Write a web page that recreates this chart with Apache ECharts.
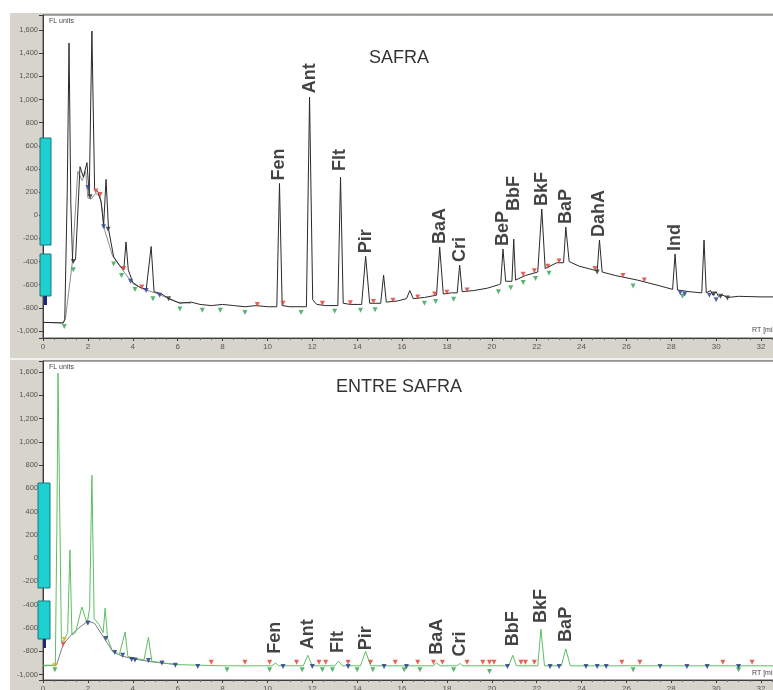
<!DOCTYPE html>
<html>
<head>
<meta charset="utf-8">
<script src="https://cdn.jsdelivr.net/npm/echarts@6/dist/echarts.min.js"></script>
<style>
  html, body { margin: 0; padding: 0; background: #fff; overflow: hidden; }
  #chart { width: 773px; height: 690px; }
</style>
</head>
<body>
<div id="chart"></div>
<script>
// Retention time axis range (min) and fluorescence ranges (FL units)
const rtRange = [0, 32.98];
const flRangeTop = [-1060, 1730];
const flRangeBottom = [-1047, 1694];
const rtTickStep = 2;
const flTickStep = 200;

// SAFRA chromatogram: [RT, FL]
const safraTrace = [
  [0.0,-925],[0.9,-930],[0.97,-900],[1.08,200],[1.16,1487],[1.24,100],[1.32,-400],[1.45,-380],
  [1.65,420],[1.8,330],[1.96,455],[2.06,170],[2.18,1591],[2.3,230],[2.45,200],[2.6,110],
  [2.7,-90],[2.81,310],[2.92,-120],[3.15,-360],[3.4,-430],[3.6,-470],[3.7,-230],[3.8,-470],
  [4.0,-580],[4.3,-620],[4.6,-640],[4.82,-270],[4.95,-660],[5.3,-680],[5.6,-720],[6.1,-760],
  [6.6,-750],[7.0,-770],[7.5,-780],[8.0,-770],[8.5,-780],[9.0,-790],[9.5,-780],[10.0,-790],
  [10.42,-790],[10.54,275],[10.66,-780],[11.0,-790],[11.74,-790],[11.88,1020],[12.02,-730],
  [12.2,-770],[12.6,-780],[13.14,-780],[13.26,330],[13.38,-760],[13.7,-770],[14.2,-770],
  [14.38,-354],[14.56,-760],[15.05,-760],[15.18,-517],[15.3,-750],[15.8,-740],[16.2,-720],
  [16.35,-650],[16.5,-720],[17.0,-710],[17.54,-690],[17.68,-275],[17.84,-680],[18.2,-670],
  [18.46,-670],[18.57,-430],[18.68,-660],[19.2,-650],[19.8,-630],[20.3,-600],[20.4,-590],
  [20.5,-292],[20.62,-570],[20.9,-570],[20.98,-206],[21.06,-560],[21.5,-520],[22.05,-490],
  [22.23,54],[22.38,-460],[22.9,-410],[23.2,-410],[23.3,-102],[23.45,-400],[23.9,-440],
  [24.5,-470],[24.7,-480],[24.8,-214],[24.92,-490],[25.5,-520],[26.5,-560],[27.5,-610],
  [28.06,-640],[28.17,-335],[28.28,-645],[28.8,-660],[29.36,-670],[29.46,-214],[29.56,-670],
  [29.75,-650],[29.85,-690],[30.0,-660],[30.1,-700],[30.3,-690],[30.5,-710],[31.0,-700],
  [32.0,-705],[32.98,-705]
];
// Second SAFRA channel, early part of the run
const safraTraceB = [
  [0.0,-925],[0.9,-930],[1.0,-890],[1.3,-420],[1.55,380],[1.75,300],[1.9,380],[2.0,150],
  [2.15,140],[2.35,190],[2.55,160],[2.75,-130],[3.1,-350],[3.5,-460],[4.0,-590],[4.5,-640],
  [5.0,-670],[5.5,-710],[6.0,-750],[6.6,-760]
];
// Integration marks along the SAFRA run
const safraMarksRed = [
  [2.35,210],[2.55,180],[3.6,-460],[4.4,-620],[9.55,-770],[10.7,-760],[12.45,-760],[13.7,-755],
  [14.73,-745],[15.6,-735],[16.7,-705],[17.45,-680],[18.0,-665],[18.9,-645],[21.4,-510],
  [21.9,-480],[22.5,-440],[23.0,-395],[24.6,-460],[25.85,-520],[26.8,-560]
];
const safraMarksGreen = [
  [0.95,-960],[1.35,-470],[3.15,-420],[3.5,-520],[4.1,-640],[4.9,-720],[6.1,-810],[7.1,-820],
  [7.9,-820],[9.0,-840],[11.5,-840],[13.0,-830],[14.15,-820],[14.8,-815],[17.0,-760],
  [17.5,-745],[18.3,-725],[20.3,-660],[20.85,-625],[21.4,-580],[21.95,-545],[22.55,-500],
  [26.3,-610],[28.5,-700]
];
const safraMarksBlue = [
  [2.0,240],[2.7,-100],[3.9,-570],[4.6,-650],[5.2,-690],[28.4,-670],[28.6,-680],[29.7,-690],
  [30.0,-730]
];
const safraMarksDark = [
  [1.35,-400],[2.1,160],[2.9,-120],[5.6,-720],[24.7,-490],[29.9,-680],[30.2,-700],[30.5,-715]
];
// SAFRA peak names with apex [RT, FL]
const safraPeakNames = ['Fen','Ant','Flt','Pir','BaA','Cri','BeP','BbF','BkF','BaP','DahA','Ind'];
const safraPeakRT = [10.54, 11.88, 13.26, 14.38, 17.68, 18.57, 20.5, 20.98, 22.23, 23.3, 24.8, 28.17];
const safraPeakFL = [275, 1020, 330, -354, -275, -430, -292, -206, 54, -102, -214, -335];

// ENTRE SAFRA chromatogram: [RT, FL]
const entreTrace = [
  [0.0,-920],[0.55,-920],[0.62,300],[0.67,1590],[0.74,500],[0.82,-720],[0.95,-700],[1.1,-640],
  [1.2,70],[1.29,-660],[1.45,-640],[1.73,-420],[1.97,-560],[2.08,-430],[2.18,712],[2.28,-520],
  [2.5,-570],[2.68,-640],[2.77,-430],[2.88,-690],[3.1,-800],[3.4,-830],[3.66,-635],[3.78,-845],
  [4.1,-860],[4.5,-875],[4.7,-680],[4.85,-885],[5.3,-900],[6.0,-915],[7.0,-920],[8.0,-925],
  [9.0,-925],[10.2,-925],[10.36,-900],[10.5,-925],[11.6,-925],[11.8,-835],[12.0,-925],
  [13.0,-925],[13.17,-885],[13.35,-925],[14.15,-925],[14.38,-800],[14.6,-925],[17.4,-925],
  [17.54,-900],[17.7,-925],[18.45,-925],[18.57,-905],[18.7,-925],[20.75,-925],[20.94,-835],
  [21.1,-925],[22.05,-925],[22.19,-610],[22.35,-925],[23.1,-925],[23.3,-780],[23.5,-925],
  [32.98,-925]
];
const entreTraceB = [
  [0.0,-925],[0.6,-920],[0.9,-740],[1.3,-650],[1.6,-600],[2.0,-540],[2.3,-560],[2.7,-680],
  [3.1,-800],[3.5,-840],[4.0,-865],[4.5,-880],[5.0,-895],[6.0,-915]
];
const entreMarksRed = [
  [0.9,-740],[7.5,-895],[9.0,-895],[10.1,-895],[11.3,-895],[12.3,-895],[12.6,-895],[13.6,-895],
  [14.6,-895],[15.7,-895],[16.7,-895],[17.4,-895],[17.8,-895],[18.9,-895],[19.6,-895],
  [19.9,-895],[20.1,-895],[21.3,-895],[21.5,-895],[21.9,-895],[25.8,-895],[26.6,-895],
  [30.3,-895],[31.6,-895]
];
const entreMarksGreen = [
  [0.53,-960],[8.2,-960],[10.1,-960],[11.55,-960],[12.45,-960],[12.9,-960],[14.0,-960],
  [14.7,-960],[16.1,-960],[16.8,-960],[18.3,-960],[19.9,-975],[26.3,-960],[31.0,-960]
];
const entreMarksNavy = [
  [2.0,-560],[2.8,-690],[3.2,-810],[3.55,-835],[3.95,-870],[4.1,-875],[4.7,-880],[5.3,-900],
  [5.9,-920],[6.9,-930],[10.7,-930],[12.0,-930],[13.6,-930],[15.2,-930],[16.2,-930],
  [20.7,-930],[22.6,-930],[23.0,-930],[24.2,-930],[24.7,-930],[25.1,-930],[27.5,-930],
  [28.7,-930],[29.6,-930],[31.0,-930]
];
const entreMarksYellow = [[0.53,-920],[0.95,-700]];
const entrePeakNames = ['Fen','Ant','Flt','Pir','BaA','Cri','BbF','BkF','BaP'];
const entrePeakRT = [10.36, 11.8, 13.17, 14.38, 17.54, 18.57, 20.94, 22.19, 23.3];
const entrePeakFL = [-900, -835, -885, -800, -900, -905, -835, -610, -780];

// gap (px) between a peak apex and the start of its rotated name
const safraLabelGap = { BbF: 28, Flt: 6, Ant: 4 };
const entreLabelGap = { Fen: 9, Ant: 6, Flt: 8, Pir: 1, BaA: 8, Cri: 7, BbF: 9, BkF: 6, BaP: 7 };

const FONT = 'Liberation Sans, Arial, sans-serif';
const AXIS_COLOR = '#3c3c3c';

function flLabel(v) {
  return v % flTickStep === 0 ? v.toLocaleString('en-US') : '';
}
function rtLabel(v) {
  return Math.abs(v % rtTickStep) < 1e-9 ? String(v) : '';
}

function xAxisFor(grid) {
  return {
    gridIndex: grid, type: 'value', min: rtRange[0], max: rtRange[1],
    minInterval: rtTickStep, maxInterval: rtTickStep, splitNumber: 16,
    splitLine: { show: false },
    axisLine: { show: true, onZero: false, lineStyle: { color: AXIS_COLOR, width: 1 } },
    axisTick: { show: true, length: 3, lineStyle: { color: AXIS_COLOR } },
    minorTick: { show: true, splitNumber: 4, length: 2, lineStyle: { color: '#666' } },
    axisLabel: { formatter: rtLabel, fontSize: 8, color: '#555', margin: 5, fontFamily: FONT }
  };
}
function yAxisFor(grid, range) {
  return {
    gridIndex: grid, type: 'value', min: range[0], max: range[1],
    minInterval: flTickStep, maxInterval: flTickStep, splitNumber: 14,
    splitLine: { show: false },
    axisLine: { show: true, onZero: false, lineStyle: { color: AXIS_COLOR, width: 1 } },
    axisTick: { show: true, length: 4, lineStyle: { color: AXIS_COLOR } },
    axisLabel: { formatter: flLabel, fontSize: 7.5, color: '#555', margin: 5, fontFamily: FONT }
  };
}
function traceSeries(grid, data, color, width, z) {
  return {
    type: 'line', xAxisIndex: grid, yAxisIndex: grid, data: data,
    symbol: 'none', silent: true, z: z,
    lineStyle: { color: color, width: width }
  };
}
function markSeries(grid, data, color) {
  return {
    type: 'scatter', xAxisIndex: grid, yAxisIndex: grid, data: data,
    symbol: 'triangle', symbolRotate: 180, symbolSize: 5, silent: true, z: 4,
    itemStyle: { color: color, opacity: 0.85 }
  };
}
function peakLabelSeries(grid, names, rts, fls, gaps) {
  return {
    type: 'scatter', xAxisIndex: grid, yAxisIndex: grid, silent: true, z: 6,
    symbolSize: 0.1, itemStyle: { color: 'rgba(0,0,0,0)' },
    data: names.map((n, i) => ({
      name: n, value: [rts[i], fls[i]],
      label: { distance: gaps[n] != null ? gaps[n] : 3 }
    })),
    label: {
      show: true, position: 'top', rotate: 90, align: 'left', verticalAlign: 'middle',
      formatter: p => p.name, fontSize: 18, fontWeight: 'bold', color: '#141414',
      fontFamily: FONT
    }
  };
}

const chart = echarts.init(document.getElementById('chart'), null, { renderer: 'canvas' });
chart.setOption({
  animation: false,
  backgroundColor: '#d7d4cc',
  grid: [
    { left: 43, top: 15, right: -10, height: 323, outerBoundsMode: 'none', containLabel: false,
      show: true, backgroundColor: '#fff', borderColor: '#555', borderWidth: 1 },
    { left: 43, top: 361, right: -10, height: 319, outerBoundsMode: 'none', containLabel: false,
      show: true, backgroundColor: '#fff', borderColor: '#555', borderWidth: 1 }
  ],
  xAxis: [xAxisFor(0), xAxisFor(1)],
  yAxis: [yAxisFor(0, flRangeTop), yAxisFor(1, flRangeBottom)],
  graphic: [
    { type: 'rect', shape: { x: 0, y: 0, width: 773, height: 13 }, style: { fill: '#fff' }, silent: true },
    { type: 'rect', shape: { x: 0, y: 0, width: 10, height: 690 }, style: { fill: '#fff' }, silent: true },
    { type: 'rect', shape: { x: 10, y: 358, width: 763, height: 2 }, style: { fill: '#f2f1ee' }, silent: true },
    // channel boxes on the left edge
    { type: 'rect', shape: { x: 40, y: 138, width: 11, height: 107 }, style: { fill: '#1fd0d0', stroke: '#147a80', lineWidth: 1 }, silent: true, z: 20 },
    { type: 'rect', shape: { x: 40, y: 254, width: 11, height: 42 }, style: { fill: '#1fd0d0', stroke: '#147a80', lineWidth: 1 }, silent: true, z: 20 },
    { type: 'rect', shape: { x: 44, y: 296, width: 3, height: 9 }, style: { fill: '#1a2a7a' }, silent: true, z: 20 },
    { type: 'rect', shape: { x: 38, y: 483, width: 12, height: 105 }, style: { fill: '#1fd0d0', stroke: '#147a80', lineWidth: 1 }, silent: true, z: 20 },
    { type: 'rect', shape: { x: 38, y: 601, width: 12, height: 38 }, style: { fill: '#1fd0d0', stroke: '#147a80', lineWidth: 1 }, silent: true, z: 20 },
    { type: 'rect', shape: { x: 43, y: 639, width: 3, height: 9 }, style: { fill: '#1a2a7a' }, silent: true, z: 20 },
    // panel titles and unit captions
    { type: 'text', x: 399, y: 58, silent: true, z: 20,
      style: { text: 'SAFRA', font: '18px ' + FONT, fill: '#333', textAlign: 'center', textVerticalAlign: 'middle', align: 'center', verticalAlign: 'middle' } },
    { type: 'text', x: 399, y: 387, silent: true, z: 20,
      style: { text: 'ENTRE SAFRA', font: '18px ' + FONT, fill: '#333', textAlign: 'center', textVerticalAlign: 'middle', align: 'center', verticalAlign: 'middle' } },
    { type: 'text', x: 49, y: 18, silent: true, z: 20, style: { text: 'FL units', font: '7px ' + FONT, fill: '#444' } },
    { type: 'text', x: 49, y: 364, silent: true, z: 20, style: { text: 'FL units', font: '7px ' + FONT, fill: '#444' } },
    { type: 'text', x: 752, y: 327, silent: true, z: 20, style: { text: 'RT [min]', font: '7px ' + FONT, fill: '#444' } },
    { type: 'text', x: 752, y: 670, silent: true, z: 20, style: { text: 'RT [min]', font: '7px ' + FONT, fill: '#444' } }
  ],
  series: [
    traceSeries(0, safraTraceB, '#8c8c8c', 1, 2),
    traceSeries(0, safraTrace, '#2a2a2a', 1, 3),
    markSeries(0, safraMarksRed, '#e0463e'),
    markSeries(0, safraMarksGreen, '#3aa858'),
    markSeries(0, safraMarksBlue, '#34489c'),
    markSeries(0, safraMarksDark, '#3a3a3a'),
    peakLabelSeries(0, safraPeakNames, safraPeakRT, safraPeakFL, safraLabelGap),
    traceSeries(1, entreTraceB, '#7a7f86', 1, 2),
    traceSeries(1, entreTrace, '#5dbf63', 1, 3),
    markSeries(1, entreMarksRed, '#e0463e'),
    markSeries(1, entreMarksGreen, '#3aa858'),
    markSeries(1, entreMarksNavy, '#2c3f8c'),
    markSeries(1, entreMarksYellow, '#d8b520'),
    peakLabelSeries(1, entrePeakNames, entrePeakRT, entrePeakFL, entreLabelGap)
  ]
});
</script>
</body>
</html>
